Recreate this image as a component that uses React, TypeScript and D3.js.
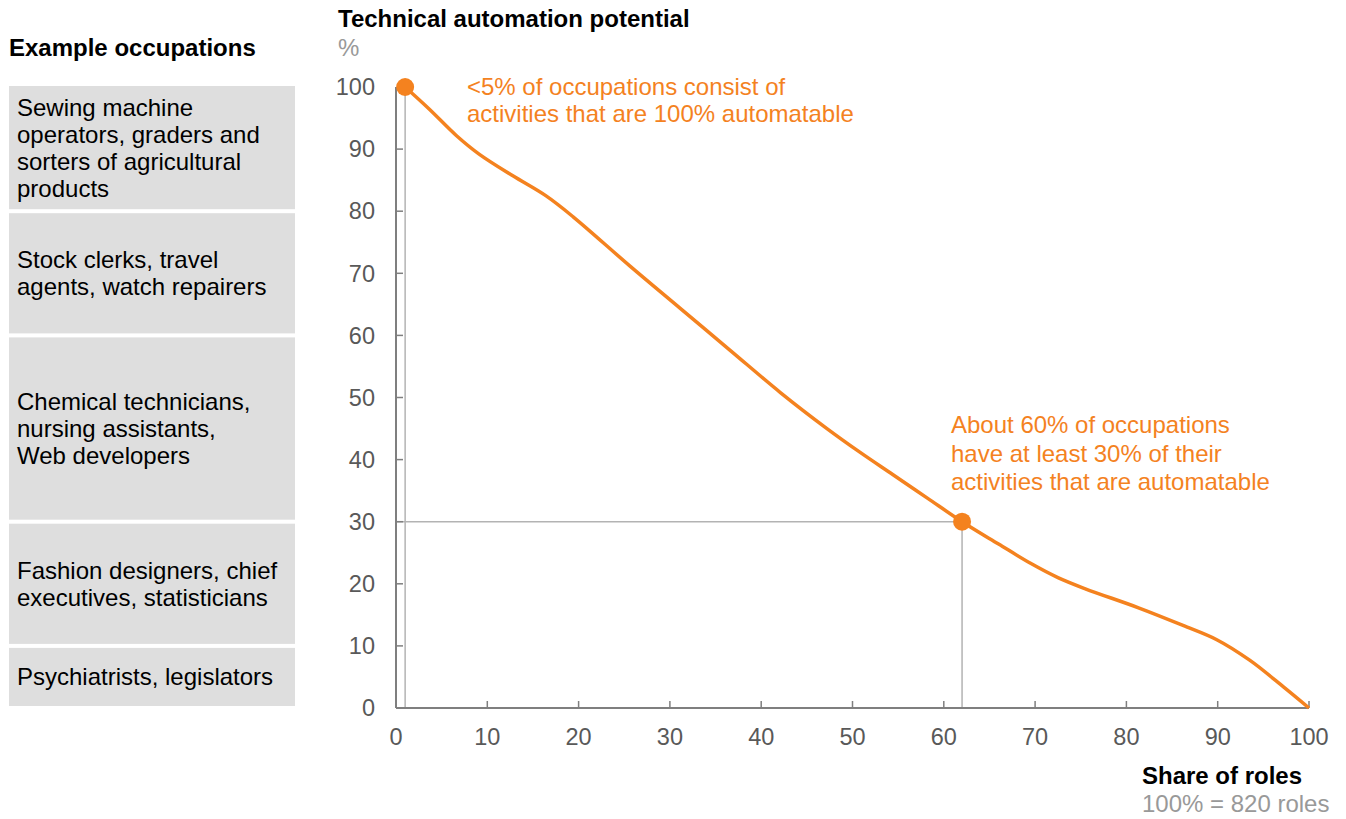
import React from "react";
import * as d3 from "d3";

const shareOfRoles = [1, 3.6, 6.6, 9.1, 12.8, 16.4, 19.4, 25.6, 31.1, 36.6, 42.1, 47.2, 50.8, 54.4, 58.2, 62, 66, 69.5, 72.5, 75.5, 81.4, 86.2, 89.9, 93.5, 97.2, 100];
const automationPotential = [100, 96.5, 92.2, 89.2, 85.7, 82.5, 79.1, 71.2, 64.4, 57.6, 50.8, 45, 41.2, 37.6, 33.8, 30, 26.4, 23.3, 21.0, 19.2, 16.1, 13.3, 11.0, 7.7, 3.4, 0];

const bandTops = [100, 80, 60, 30, 10];
const bandBottoms = [80, 60, 30, 10, 0];
const bandLabels = [
  ["Sewing machine", "operators, graders and", "sorters of agricultural", "products"],
  ["Stock clerks, travel", "agents, watch repairers"],
  ["Chemical technicians,", "nursing assistants,", "Web developers"],
  ["Fashion designers, chief", "executives, statisticians"],
  ["Psychiatrists, legislators"],
];

const xTicks = [0, 10, 20, 30, 40, 50, 60, 70, 80, 90, 100];
const yTicks = [0, 10, 20, 30, 40, 50, 60, 70, 80, 90, 100];

const highlightX = [1, 62];
const highlightY = [100, 30];
const note1 = ["<5% of occupations consist of", "activities that are 100% automatable"];
const note2 = ["About 60% of occupations", "have at least 30% of their", "activities that are automatable"];

const ORANGE = "#F4821F";
const AXIS = "#7f7f7f";
const REF = "#b3b3b3";
const TICKTXT = "#595959";
const FONT = "'Liberation Sans', Arial, sans-serif";

export default function App() {
  const x = d3.scaleLinear().domain([0, 100]).range([396, 1309]);
  const y = d3.scaleLinear().domain([0, 100]).range([708, 87]);
  const pts: [number, number][] = shareOfRoles.map((v, i) => [v, automationPotential[i]]);
  const line = d3
    .line<[number, number]>()
    .x((d) => x(d[0]))
    .y((d) => y(d[1]))
    .curve(d3.curveCatmullRom.alpha(0.5));

  const fs = 24;
  const tfs = 23.5;
  const lh = 27;

  return (
    <svg
      width={1346}
      height={819}
      style={{ position: "absolute", left: 0, top: 0, background: "#fff" }}
      fontFamily={FONT}
    >
      {/* titles */}
      <text x={338} y={27} fontSize={fs} fontWeight="bold" fill="#000">Technical automation potential</text>
      <text x={338} y={56} fontSize={fs} fill="#999">%</text>
      <text x={9} y={56} fontSize={fs} fontWeight="bold" fill="#000">Example occupations</text>

      {/* bands */}
      {bandTops.map((t, i) => {
        const top = y(t) + (i === 0 ? -1 : 2);
        const bot = y(bandBottoms[i]) - 2;
        const cy = (top + bot) / 2;
        const lines = bandLabels[i];
        const start = cy - ((lines.length - 1) * lh) / 2;
        return (
          <g key={i}>
            <rect x={9} y={top} width={286} height={bot - top} fill="#dedede" />
            {lines.map((l, j) => (
              <text key={j} x={17} y={start + j * lh} dy="0.35em" fontSize={fs} fill="#000">{l}</text>
            ))}
          </g>
        );
      })}

      {/* reference lines */}
      <line x1={x(highlightX[0])} x2={x(highlightX[0])} y1={y(highlightY[0])} y2={y(0)} stroke={REF} strokeWidth={1.5} />
      <line x1={x(highlightX[1])} x2={x(highlightX[1])} y1={y(highlightY[1])} y2={y(0)} stroke={REF} strokeWidth={1.5} />
      <line x1={x(0)} x2={x(highlightX[1])} y1={y(highlightY[1])} y2={y(highlightY[1])} stroke={REF} strokeWidth={1.5} />

      {/* axes */}
      <line x1={x(0)} x2={x(0)} y1={y(100)} y2={y(0)} stroke={AXIS} strokeWidth={2} />
      <line x1={x(0)} x2={x(100)} y1={y(0)} y2={y(0)} stroke={AXIS} strokeWidth={2} />
      {yTicks.map((t) => (
        <g key={"y" + t}>
          {t > 0 && t < 100 && <line x1={x(0)} x2={x(0) + 7} y1={y(t)} y2={y(t)} stroke={AXIS} strokeWidth={1.5} />}
          <text x={375} y={y(t)} dy="0.35em" textAnchor="end" fontSize={tfs} fill={TICKTXT}>{t}</text>
        </g>
      ))}
      {xTicks.map((t) => (
        <g key={"x" + t}>
          {t > 0 && <line x1={x(t)} x2={x(t)} y1={y(0)} y2={y(0) - 7} stroke={AXIS} strokeWidth={1.5} />}
          <text x={x(t)} y={745} textAnchor="middle" fontSize={tfs} fill={TICKTXT}>{t}</text>
        </g>
      ))}

      {/* curve */}
      <path d={line(pts) || ""} fill="none" stroke={ORANGE} strokeWidth={3.5} />
      {highlightX.map((hx, i) => (
        <circle key={i} cx={x(hx)} cy={y(highlightY[i])} r={9} fill={ORANGE} />
      ))}

      {/* notes */}
      {note1.map((l, j) => (
        <text key={"n1" + j} x={467} y={95 + j * 27} fontSize={fs} fill={ORANGE}>{l}</text>
      ))}
      {note2.map((l, j) => (
        <text key={"n2" + j} x={951} y={433 + j * 28.5} fontSize={fs} fill={ORANGE}>{l}</text>
      ))}

      {/* x title */}
      <text x={1142} y={784} fontSize={fs} fontWeight="bold" fill="#000">Share of roles</text>
      <text x={1142} y={812} fontSize={fs} fill="#999">100% = 820 roles</text>
    </svg>
  );
}
